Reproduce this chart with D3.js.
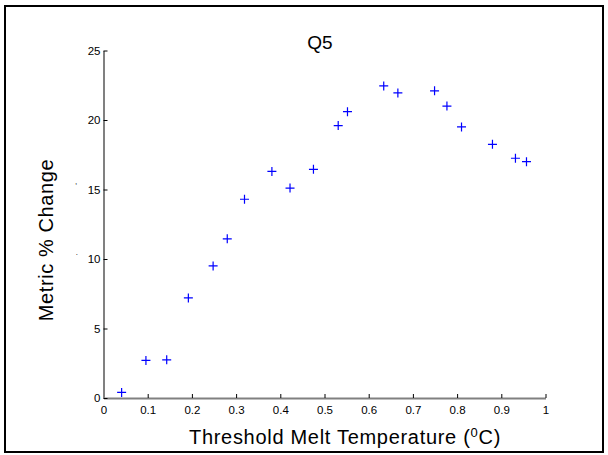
<!DOCTYPE html>
<html>
<head>
<meta charset="utf-8">
<script src="https://cdn.jsdelivr.net/npm/d3@7"></script>
<style>
  body { margin: 0; background: #fff; }
  svg { display: block; font-family: "Liberation Sans", Arial, sans-serif; }
  .axis text { font-size: 11.5px; fill: #000; }
  .axis .domain { stroke: #808080; stroke-width: 2px; }
  .axis .tick line { stroke: #000; }
</style>
</head>
<body>
<div id="chart"></div>
<script>
(function() {

    // threshold melt temperature (deg C)
    var thresholds = [0.041, 0.096, 0.143, 0.192, 0.248, 0.280, 0.319, 0.381, 0.422, 0.475,
                      0.531, 0.552, 0.634, 0.666, 0.749, 0.777, 0.810, 0.880, 0.932, 0.957];
    // metric % change
    var pctChange = [0.4, 2.7, 2.75, 7.2, 9.5, 11.45, 14.3, 16.3, 15.1, 16.45,
                     19.6, 20.6, 22.45, 21.95, 22.1, 21.0, 19.5, 18.25, 17.25, 17.0];

    var xTicks = [0, 0.1, 0.2, 0.3, 0.4, 0.5, 0.6, 0.7, 0.8, 0.9, 1];
    var yTicks = [0, 5, 10, 15, 20, 25];

    var W = 608, H = 455;
    var margin = {top: 50.5, left: 103.5, right: 62.5, bottom: 57},
        width = W - margin.left - margin.right,
        height = H - margin.top - margin.bottom;

    var svg = d3.select("#chart").append("svg")
        .attr("width", W)
        .attr("height", H);

    // outer frame
    svg.append("rect")
        .attr("x", 5).attr("y", 6)
        .attr("width", 598).attr("height", 446)
        .attr("fill", "none")
        .attr("stroke", "#000")
        .attr("stroke-width", 2);

    var g = svg.append("g")
        .attr("transform", "translate(" + margin.left + "," + margin.top + ")");

    var x = d3.scaleLinear().domain([0, 1]).range([0, width]);
    var y = d3.scaleLinear().domain([0, 25]).range([height, 0]);

    g.append("g")
        .attr("class", "axis")
        .attr("transform", "translate(0," + height + ")")
        .call(d3.axisBottom(x).tickValues(xTicks).tickFormat(d3.format("")).tickSizeInner(-4).tickSizeOuter(0).tickPadding(7.5));

    g.append("g")
        .attr("class", "axis")
        .call(d3.axisLeft(y).tickValues(yTicks).tickSizeInner(-4).tickSizeOuter(0).tickPadding(3));

    // plus markers
    var pts = thresholds.map(function(d, i) { return [d, pctChange[i]]; });
    g.append("g").selectAll("path")
        .data(pts)
        .enter().append("path")
        .attr("d", function(d) {
            var cx = x(d[0]), cy = y(d[1]), r = 4.5;
            return "M" + (cx - r) + "," + cy + "H" + (cx + r) + "M" + cx + "," + (cy - r) + "V" + (cy + r);
        })
        .attr("stroke", "#0000ff")
        .attr("stroke-width", 1.2)
        .attr("fill", "none");

    // title
    svg.append("text")
        .attr("x", 320)
        .attr("y", 49)
        .attr("text-anchor", "middle")
        .attr("font-size", 19)
        .text("Q5");

    // x label
    var xl = svg.append("text")
        .attr("x", 189)
        .attr("y", 444)
        .attr("font-size", 20)
        .attr("letter-spacing", 0.7)
        .text("Threshold Melt Temperature (");
    xl.append("tspan").attr("baseline-shift", "super").attr("font-size", 13).text("0");
    xl.append("tspan").text("C)");

    // y label
    svg.append("text")
        .attr("transform", "translate(53,240) rotate(-90)")
        .attr("text-anchor", "middle")
        .attr("font-size", 20)
        .attr("letter-spacing", 0.6)
        .text("Metric % Change");

    // stray marks
    svg.append("text").attr("x", 75).attr("y", 184).attr("font-size", 8).text(",");
    svg.append("text").attr("x", 75.5).attr("y", 257).attr("font-size", 8).text("·");

})();
</script>
</body>
</html>
